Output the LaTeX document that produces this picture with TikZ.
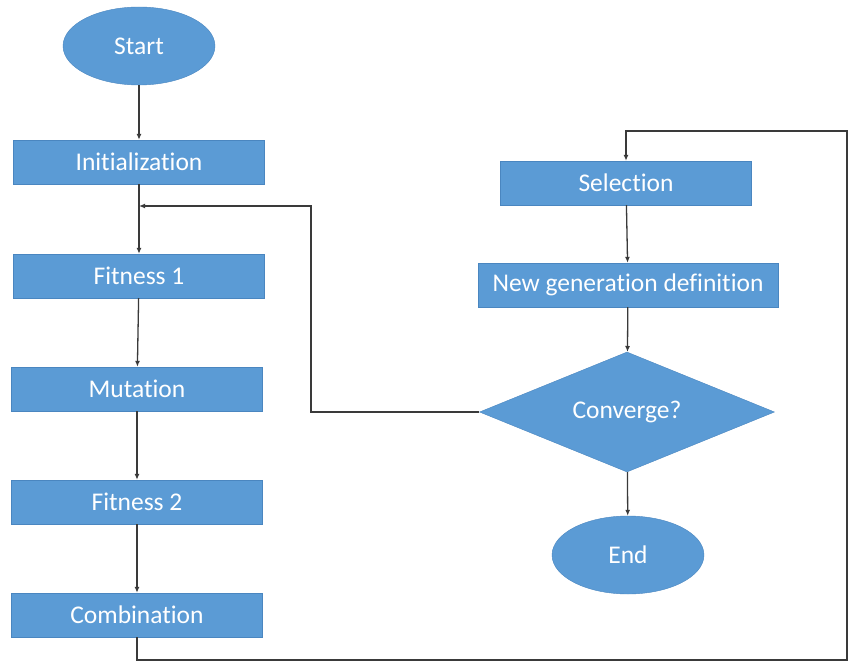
\documentclass[tikz,border=0pt]{standalone}
\usepackage{xcolor}
\usepackage{tikz}
\usepackage{fontspec}
\setmainfont[Ligatures=NoCommon]{Carlito}
\usetikzlibrary{shapes.geometric, arrows.meta, positioning, calc}

\definecolor{boxblue}{HTML}{5B9BD5}
\definecolor{boxedge}{HTML}{4A86C0}
\definecolor{linegray}{HTML}{3A3A3A}

\begin{document}
\begin{tikzpicture}[x=1pt, y=-1pt,
    block/.style={rectangle, fill=boxblue, draw=boxedge, thin, text=white, minimum width=251pt, minimum height=44pt, inner sep=0pt, font=\fontsize{25.5}{30}\selectfont},
    terminal/.style={ellipse, fill=boxblue, draw=boxedge, thin, text=white, minimum width=152pt, minimum height=78pt, inner sep=0pt, font=\fontsize{25.5}{30}\selectfont},
    decision/.style={diamond, fill=boxblue, draw=boxedge, thin, text=white, minimum width=295pt, minimum height=120pt, inner sep=0pt, aspect=2.46, font=\fontsize{25.5}{30}\selectfont},
    line/.style={draw=linegray, line width=1.3pt, -{Latex[length=6pt, width=5pt]}}]
    \useasboundingbox (0,0) rectangle (848,663);

    % Left column
    \node[terminal] (start) at (139,46) {Start};
    \node[block] (init) at (139,162) {Initialization};
    \node[block] (fit1) at (139,276) {Fitness 1};
    \node[block] (mut) at (137,389) {Mutation};
    \node[block] (fit2) at (137,502) {Fitness 2};
    \node[block] (comb) at (137,615) {Combination};

    % Right column
    \node[block] (sel) at (626,183) {Selection};
    \node[block, minimum width=300pt] (newgen) at (628,285) {New generation definition};
    \node[decision] (conv) at (627,412) {Converge?};
    \node[terminal] (stop) at (628,555) {End};

    % Loop points
    \coordinate (back) at (139,206);
    \coordinate (bottomright) at (847,660);

    % Arrows
    \draw[line] (start) -- (init);
    \draw[line] (init) -- (fit1);
    \draw[line] (fit1) -- (mut);
    \draw[line] (mut) -- (fit2);
    \draw[line] (fit2) -- (comb);
    \draw[line] (comb.south) |- (bottomright) -- (847,131) -| (sel.north);
    \draw[line] (sel) -- (newgen);
    \draw[line] (newgen) -- (conv);
    \draw[line] (conv) -- (stop);
    \draw[line] (conv.west) -| (311,206) -- (back);
\end{tikzpicture}
\end{document}
